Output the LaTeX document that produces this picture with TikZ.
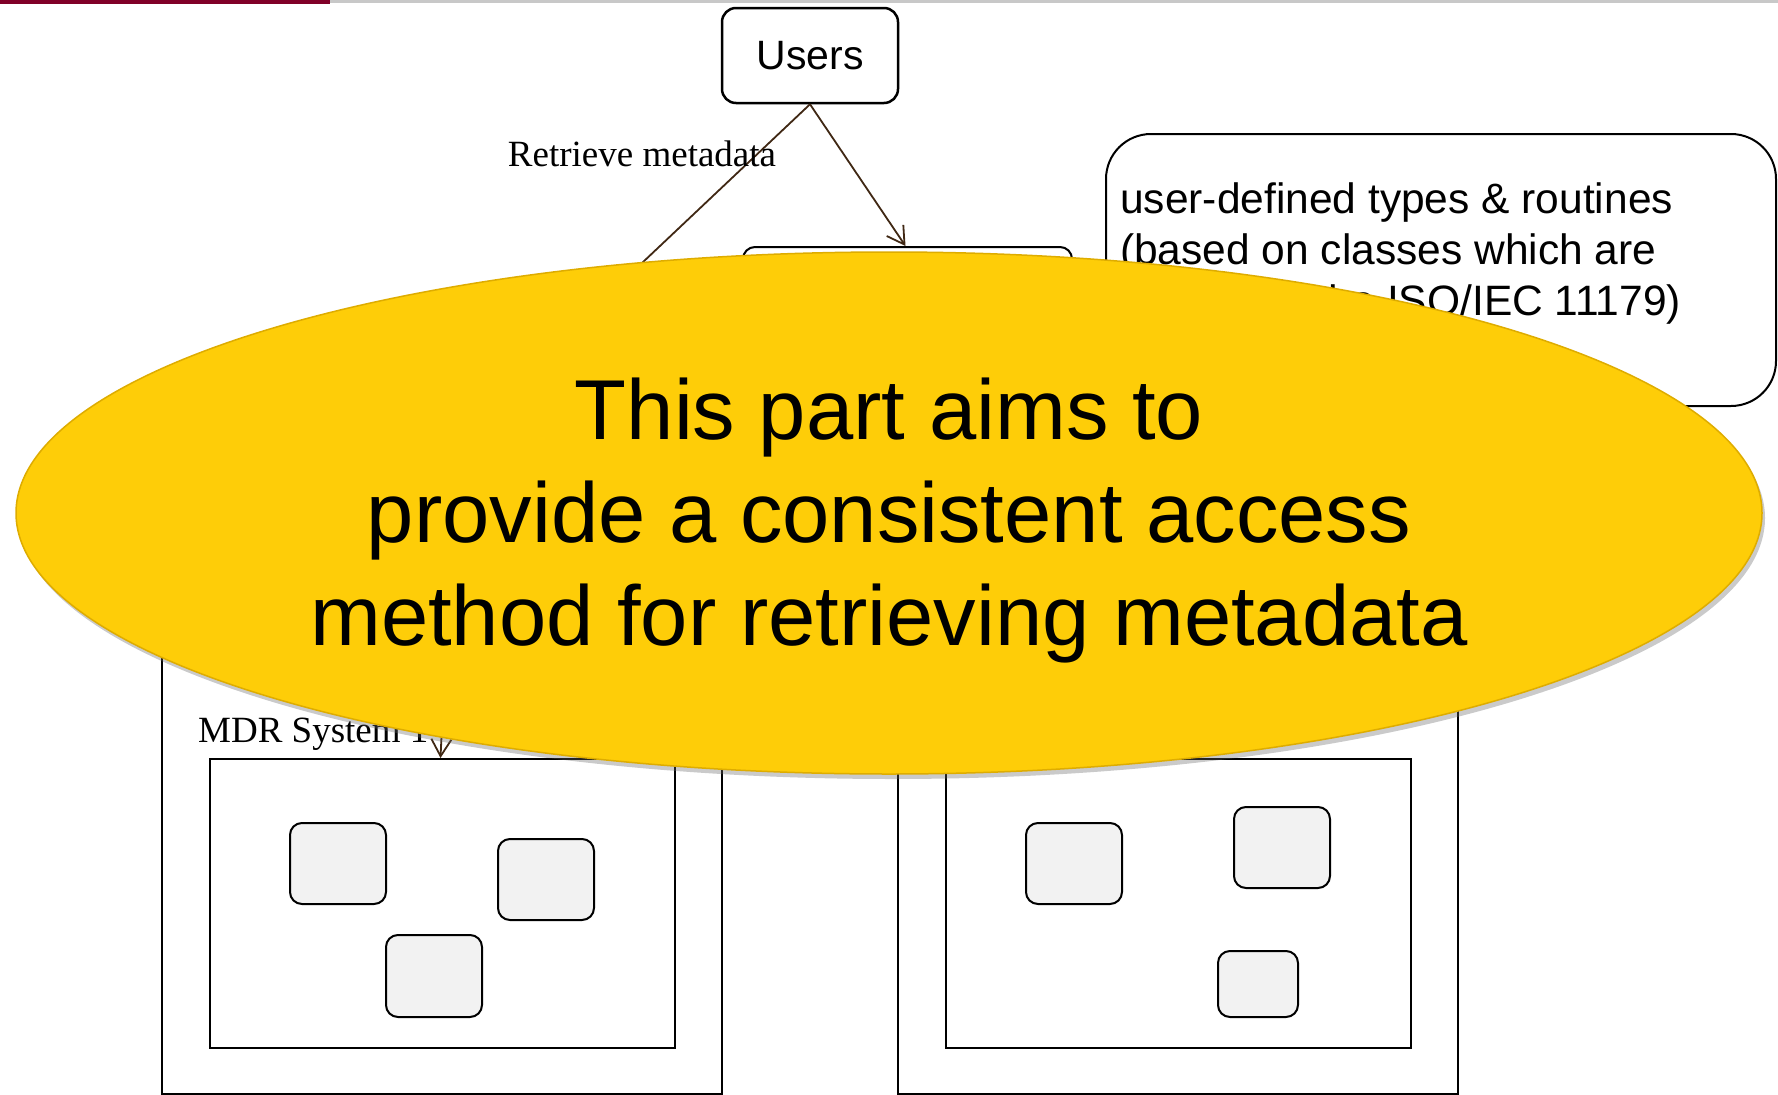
\documentclass[tikz,border=0pt]{standalone}
\usepackage{fontspec}
\setmainfont{Liberation Serif}
\setsansfont{Liberation Sans}
\usetikzlibrary{arrows.meta,shapes.geometric,shadows}

\definecolor{barred}{RGB}{128,0,40}
\definecolor{bargray}{RGB}{200,200,200}
\definecolor{linkbrown}{RGB}{64,40,20}
\definecolor{boxgray}{RGB}{242,242,242}
\definecolor{bubbleyellow}{RGB}{254,205,8}
\definecolor{bubbleedge}{RGB}{222,172,0}

\tikzset{
  userbox/.style={draw, line width=2.5pt, rounded corners=14pt, minimum width=176pt, minimum height=95pt, font=\sffamily\fontsize{41}{49}\selectfont},
  plainbox/.style={draw, line width=2pt, rounded corners=12pt},
  notebox/.style={draw, line width=2pt, rounded corners=45pt},
  outerbox/.style={draw, line width=1.5pt},
  innerbox/.style={draw, line width=2pt, minimum width=465pt, minimum height=289pt},
  cell/.style={draw, line width=2pt, fill=boxgray, rounded corners=12pt},
  link/.style={draw=linkbrown, line width=1.8pt},
  seriflabel/.style={font=\fontsize{37}{44}\selectfont, inner sep=0pt},
  notetext/.style={font=\sffamily\fontsize{42.5}{51}\selectfont, align=left, inner sep=0pt},
  bubble/.style={ellipse, fill=bubbleyellow, draw=bubbleedge, line width=1.5pt, minimum width=1746pt, minimum height=522pt},
  bubbletext/.style={font=\sffamily\fontsize{85}{103}\selectfont, align=center, inner sep=0pt},
}

\begin{document}
\begin{tikzpicture}[x=1pt, y=-1pt, >={Straight Barb[length=17pt,width=20pt]}]
  \useasboundingbox (0,0) rectangle (1778,1095);
  % top rule
  \fill[barred] (0,0) rectangle (330,4);
  \fill[bargray] (330,0) rectangle (1778,3);

  \node[userbox] (users) at (810,55.5) {Users};
  \node[plainbox, minimum width=329pt, minimum height=173pt] (store) at (907.5,333.5) {};
  \node[notebox, minimum width=670pt, minimum height=272pt] (note) at (1441,270) {};
  \node[notetext, anchor=north west] (notetxt) at (1120,182)
    {user-defined types \& routines\\(based on classes which are\\defined in the ISO/IEC 11179)};

  \coordinate (hidleft) at (497,400);
  \draw[link] (users.south) -- (hidleft);
  \draw[link, ->] (users.south) -- ([xshift=-2pt]store.north);
  \node[seriflabel, anchor=base] (retrieve) at (642,166) {Retrieve metadata};

  % MDR systems
  \node[outerbox, minimum width=560pt, minimum height=454pt] (mdrA) at (442,867) {};
  \node[outerbox, minimum width=560pt, minimum height=454pt] (mdrB) at (1178,867) {};
  \node[innerbox] (regA) at (442.5,903.5) {};
  \node[innerbox] (regB) at (1178.5,903.5) {};
  \node[seriflabel, anchor=base west] (mdrlabel) at (198,742) {MDR System 1};

  \node[cell, minimum width=96pt, minimum height=81pt] (a1) at (338,863.5) {};
  \node[cell, minimum width=96pt, minimum height=81pt] (a2) at (546,879.5) {};
  \node[cell, minimum width=96pt, minimum height=82pt] (a3) at (434,976) {};
  \node[cell, minimum width=96pt, minimum height=81pt] (b1) at (1074,863.5) {};
  \node[cell, minimum width=96pt, minimum height=81pt] (b2) at (1282,847.5) {};
  \node[cell, minimum width=80pt, minimum height=66pt] (b3) at (1258,984) {};

  \coordinate (hidmdr) at (446,640);
  \draw[link, ->] (hidmdr) -- ([xshift=-2pt]regA.north);

  % overlay
  \node[bubble, drop shadow={shadow xshift=3pt, shadow yshift=-5pt, opacity=.35, fill=black!60}] (aim) at (889,513) {};
  \node[bubbletext] (aimtxt) at (889,521)
    {This part aims to\\provide a consistent access\\method for retrieving metadata};
\end{tikzpicture}
\end{document}
